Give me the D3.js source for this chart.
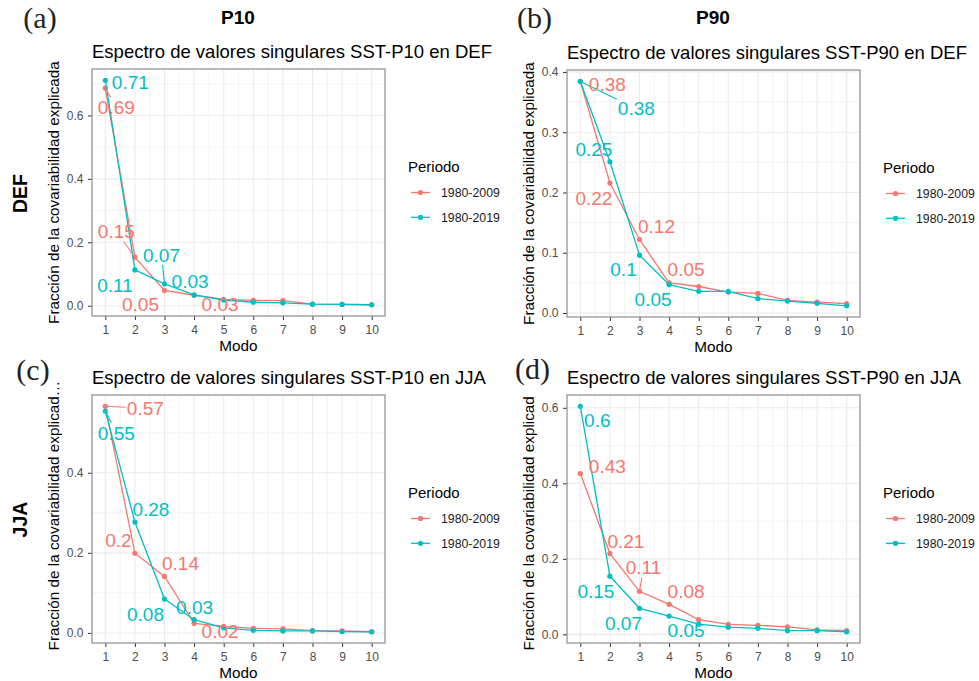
<!DOCTYPE html>
<html>
<head>
<meta charset="utf-8">
<script src="https://cdn.jsdelivr.net/npm/d3@7"></script>
<style>
  body { margin: 0; background: #fff; }
  svg { display: block; font-family: "Liberation Sans", Arial, sans-serif; }
</style>
</head>
<body>
<svg id="chart" width="979" height="681"></svg>
<script>
"use strict";

//modes on the x axis and the two periods
const modes = [1, 2, 3, 4, 5, 6, 7, 8, 9, 10];
const periods = ["1980-2009", "1980-2019"];

//fraction of explained covariability, one array per panel and period
const defP10_2009 = [0.686, 0.153, 0.048, 0.033, 0.020, 0.017, 0.016, 0.005, 0.004, 0.003];
const defP10_2019 = [0.711, 0.113, 0.069, 0.034, 0.018, 0.011, 0.009, 0.005, 0.004, 0.003];
const defP90_2009 = [0.3846, 0.2157, 0.122, 0.050, 0.044, 0.0347, 0.0325, 0.021, 0.018, 0.0154];
const defP90_2019 = [0.384, 0.251, 0.096, 0.047, 0.036, 0.0358, 0.024, 0.0198, 0.016, 0.012];
const jjaP10_2009 = [0.566, 0.199, 0.141, 0.024, 0.0166, 0.0116, 0.010, 0.006, 0.005, 0.003];
const jjaP10_2019 = [0.554, 0.277, 0.0846, 0.033, 0.0125, 0.0066, 0.005, 0.005, 0.0033, 0.003];
const jjaP90_2009 = [0.426, 0.214, 0.114, 0.0795, 0.039, 0.0265, 0.024, 0.020, 0.012, 0.0097];
const jjaP90_2019 = [0.604, 0.154, 0.069, 0.0486, 0.027, 0.019, 0.016, 0.0097, 0.0097, 0.007];

//y tick labels for each panel
const yTicksA = [0, 0.2, 0.4, 0.6];
const yTicksB = [0, 0.1, 0.2, 0.3, 0.4];
const yTicksC = [0, 0.2, 0.4];
const yTicksD = [0, 0.2, 0.4, 0.6];

//texts
const colHeads = ["P10", "P90"];
const rowHeads = ["DEF", "JJA"];
const titles = [
  "Espectro de valores singulares SST-P10 en DEF",
  "Espectro de valores singulares SST-P90 en DEF",
  "Espectro de valores singulares SST-P10 en JJA",
  "Espectro de valores singulares SST-P90 en JJA"
];
const tags = ["(a)", "(b)", "(c)", "(d)"];
const yTitle = "Fracción de la covariabilidad explicada";
const xTitle = "Modo";
const legendTitle = "Periodo";
const nLabelled = 4; //only the first modes get a value label

//--- layout (pixels) ---
const colors = ["#F8766D", "#00BFC4"];
//repel-style label offsets from their point, [dx, dy]
const labA = [[[11, 19], [-18.6, -26], [-24, 14], [26, 9]], [[25, 2], [-20, 15], [-3, -29], [-4, -13.5]]];
const labB = [[[27, 2.5], [-16, 15], [17, -13], [17, -14]], [[56, 27], [-16, -13], [-16, 14], [-16, 14]]];
const labC = [[[40, 2], [-16.5, -13], [16, -13], [26, 8]], [[11, 22], [16, -13], [-19, 15], [0.5, -13]]];
const labD = [[[27, -7], [16, -12], [4, -24], [17, -13]], [[17, 14], [-14, 14.5], [-16, 14.6], [17, 14.6]]];

const panels = [
  { series: [defP10_2009, defP10_2019], ticks: yTicksA, lab: labA, left: 92, right: 385, top: 69, bottom: 316, tagX: 40, tagY: 28.4, cut: false },
  { series: [defP90_2009, defP90_2019], ticks: yTicksB, lab: labB, left: 567, right: 860, top: 70, bottom: 317, tagX: 534.5, tagY: 28.4, cut: false },
  { series: [jjaP10_2009, jjaP10_2019], ticks: yTicksC, lab: labC, left: 92, right: 385, top: 395, bottom: 643, tagX: 33, tagY: 380.4, cut: true, ellipsis: true },
  { series: [jjaP90_2009, jjaP90_2019], ticks: yTicksD, lab: labD, left: 567, right: 860, top: 395, bottom: 643, tagX: 532.5, tagY: 379, cut: true, ellipsis: false }
];

const svg = d3.select("#chart");
svg.append("rect").attr("width", 979).attr("height", 681).attr("fill", "#fff");

const fmt = d3.format(".1f");
const roundLabel = v => String(Math.round(v * 100) / 100);

const drawPanel = function (p, idx) {
  const g = svg.append("g");
  const all = p.series[0].concat(p.series[1]);
  const lo = d3.min(all), hi = d3.max(all), pad = (hi - lo) * 0.05;
  const x = d3.scaleLinear().domain([0.55, 10.45]).range([p.left, p.right]);
  const y = d3.scaleLinear().domain([lo - pad, hi + pad]).range([p.bottom, p.top]);

  //grid, minor first
  const step = p.ticks[1] - p.ticks[0];
  const ext = [p.ticks[0] - step].concat(p.ticks, [p.ticks[p.ticks.length - 1] + step]);
  const yMinor = d3.range(ext.length - 1).map(i => (ext[i] + ext[i + 1]) / 2)
    .filter(v => v > y.domain()[0] && v < y.domain()[1]);
  const xMinor = d3.range(1.5, 10, 1);
  const grid = g.append("g").attr("stroke", "#EBEBEB").attr("fill", "none");
  grid.selectAll("line.ym").data(yMinor).enter().append("line")
    .attr("x1", p.left).attr("x2", p.right).attr("y1", d => y(d)).attr("y2", d => y(d)).attr("stroke-width", 0.6);
  grid.selectAll("line.xm").data(xMinor).enter().append("line")
    .attr("y1", p.top).attr("y2", p.bottom).attr("x1", d => x(d)).attr("x2", d => x(d)).attr("stroke-width", 0.6);
  grid.selectAll("line.yM").data(p.ticks).enter().append("line")
    .attr("x1", p.left).attr("x2", p.right).attr("y1", d => y(d)).attr("y2", d => y(d)).attr("stroke-width", 1.1);
  grid.selectAll("line.xM").data(modes).enter().append("line")
    .attr("y1", p.top).attr("y2", p.bottom).attr("x1", d => x(d)).attr("x2", d => x(d)).attr("stroke-width", 1.1);

  //axes
  const ax = g.append("g").attr("transform", "translate(0," + p.bottom + ")")
    .call(d3.axisBottom(x).tickValues(modes).tickFormat(d3.format("d")).tickSize(4).tickPadding(5));
  const ay = g.append("g").attr("transform", "translate(" + p.left + ",0)")
    .call(d3.axisLeft(y).tickValues(p.ticks).tickFormat(fmt).tickSize(4).tickPadding(4.5));
  for (let a of [ax, ay]) {
    a.select(".domain").remove();
    a.selectAll(".tick line").attr("stroke", "#333").attr("stroke-width", 1);
    a.selectAll(".tick text").attr("fill", "#4D4D4D").style("font-size", "12px").style("font-family", "Liberation Sans, Arial, sans-serif");
  }

  //border
  g.append("rect").attr("x", p.left).attr("y", p.top)
    .attr("width", p.right - p.left).attr("height", p.bottom - p.top)
    .attr("fill", "none").attr("stroke", "#8C8C8C").attr("stroke-width", 1.2);

  //lines and points
  const line = d3.line().x((d, i) => x(modes[i])).y(d => y(d));
  p.series.forEach((s, k) => {
    g.append("path").datum(s).attr("d", line).attr("fill", "none")
      .attr("stroke", colors[k]).attr("stroke-width", 1.3);
    g.selectAll("circle.s" + k).data(s).enter().append("circle")
      .attr("cx", (d, i) => x(modes[i])).attr("cy", d => y(d)).attr("r", 2.6).attr("fill", colors[k]);
  });

  //value labels with repel-like segments
  const segG = g.append("g");
  const labG = g.append("g");
  p.series.forEach((s, k) => {
    for (let i = 0; i < nLabelled; i++) {
      const px = x(modes[i]), py = y(s[i]);
      const cx = px + p.lab[k][i][0], cy = py + p.lab[k][i][1];
      const t = labG.append("text").attr("x", cx).attr("y", cy).attr("dy", "0.36em")
        .attr("text-anchor", "middle").attr("fill", colors[k]).style("font-size", "19px")
        .text(roundLabel(s[i]));
      const hw = t.node().getComputedTextLength() / 2 + 1, hh = 10;
      const dx = px - cx, dy = py - cy;
      const sc = Math.min(hw / Math.abs(dx || 1e-9), hh / Math.abs(dy || 1e-9));
      if (sc < 1) {
        const ex = cx + dx * sc, ey = cy + dy * sc;
        if (Math.hypot(px - ex, py - ey) > 9) {
          segG.append("line").attr("x1", px).attr("y1", py).attr("x2", ex).attr("y2", ey)
            .attr("stroke", colors[k]).attr("stroke-width", 1.1);
        }
      }
    }
  });

  //titles
  g.append("text").attr("x", p.left).attr("y", p.top - 11).attr("fill", "#000")
    .style("font-size", "18.5px").text(titles[idx]);
  g.append("text").attr("x", (p.left + p.right) / 2).attr("y", p.bottom + 34.5)
    .attr("text-anchor", "middle").attr("fill", "#000").style("font-size", "15.3px").text(xTitle);
  const mid = (p.top + p.bottom) / 2;
  const yt = g.append("text").attr("transform", "translate(" + (p.left - 33.5) + "," + mid + ") rotate(-90)")
    .attr("text-anchor", "middle").attr("fill", "#000").style("font-size", "15.3px").text(yTitle);
  if (p.cut) {
    //long title clipped at the top of the panel
    const half = yt.node().getComputedTextLength() / 2;
    yt.attr("text-anchor", "start").attr("transform", "translate(" + (p.left - 33.5) + "," + (mid + half) + ") rotate(-90)")
      .text(p.ellipsis ? "Fracción de la covariabilidad explicad\u2026" : "Fracción de la covariabilidad explicad");
  }

  //tag
  svg.append("text").attr("x", p.tagX).attr("y", p.tagY).attr("text-anchor", "middle")
    .attr("fill", "#222").style("font-family", "Liberation Serif, Times New Roman, serif")
    .style("font-size", "30px").text(tags[idx]);

  //legend
  const lx = p.right + 23, ly = p.top + 103;
  svg.append("text").attr("x", lx).attr("y", ly).attr("fill", "#000").style("font-size", "15px").text(legendTitle);
  periods.forEach((per, k) => {
    const iy = ly + 20.5 + k * 24.8;
    svg.append("line").attr("x1", lx + 3).attr("x2", lx + 22).attr("y1", iy).attr("y2", iy)
      .attr("stroke", colors[k]).attr("stroke-width", 1.3);
    svg.append("circle").attr("cx", lx + 12.5).attr("cy", iy).attr("r", 2.6).attr("fill", colors[k]);
    svg.append("text").attr("x", lx + 33).attr("y", iy + 4.4).attr("fill", "#1a1a1a")
      .style("font-size", "12.3px").text(per);
  });
};

panels.forEach(drawPanel);

//column and row headers
svg.selectAll("text.col").data(colHeads).enter().append("text")
  .attr("x", (d, i) => [238, 713][i]).attr("y", 24).attr("text-anchor", "middle")
  .attr("fill", "#000").style("font-size", "19px").style("font-weight", "bold").text(d => d);
svg.selectAll("text.row").data(rowHeads).enter().append("text")
  .attr("transform", (d, i) => "translate(27.3," + [193.5, 519.5][i] + ") rotate(-90)")
  .attr("text-anchor", "middle").attr("fill", "#000")
  .style("font-size", "19.5px").style("font-weight", "bold").text(d => d);
</script>
</body>
</html>
